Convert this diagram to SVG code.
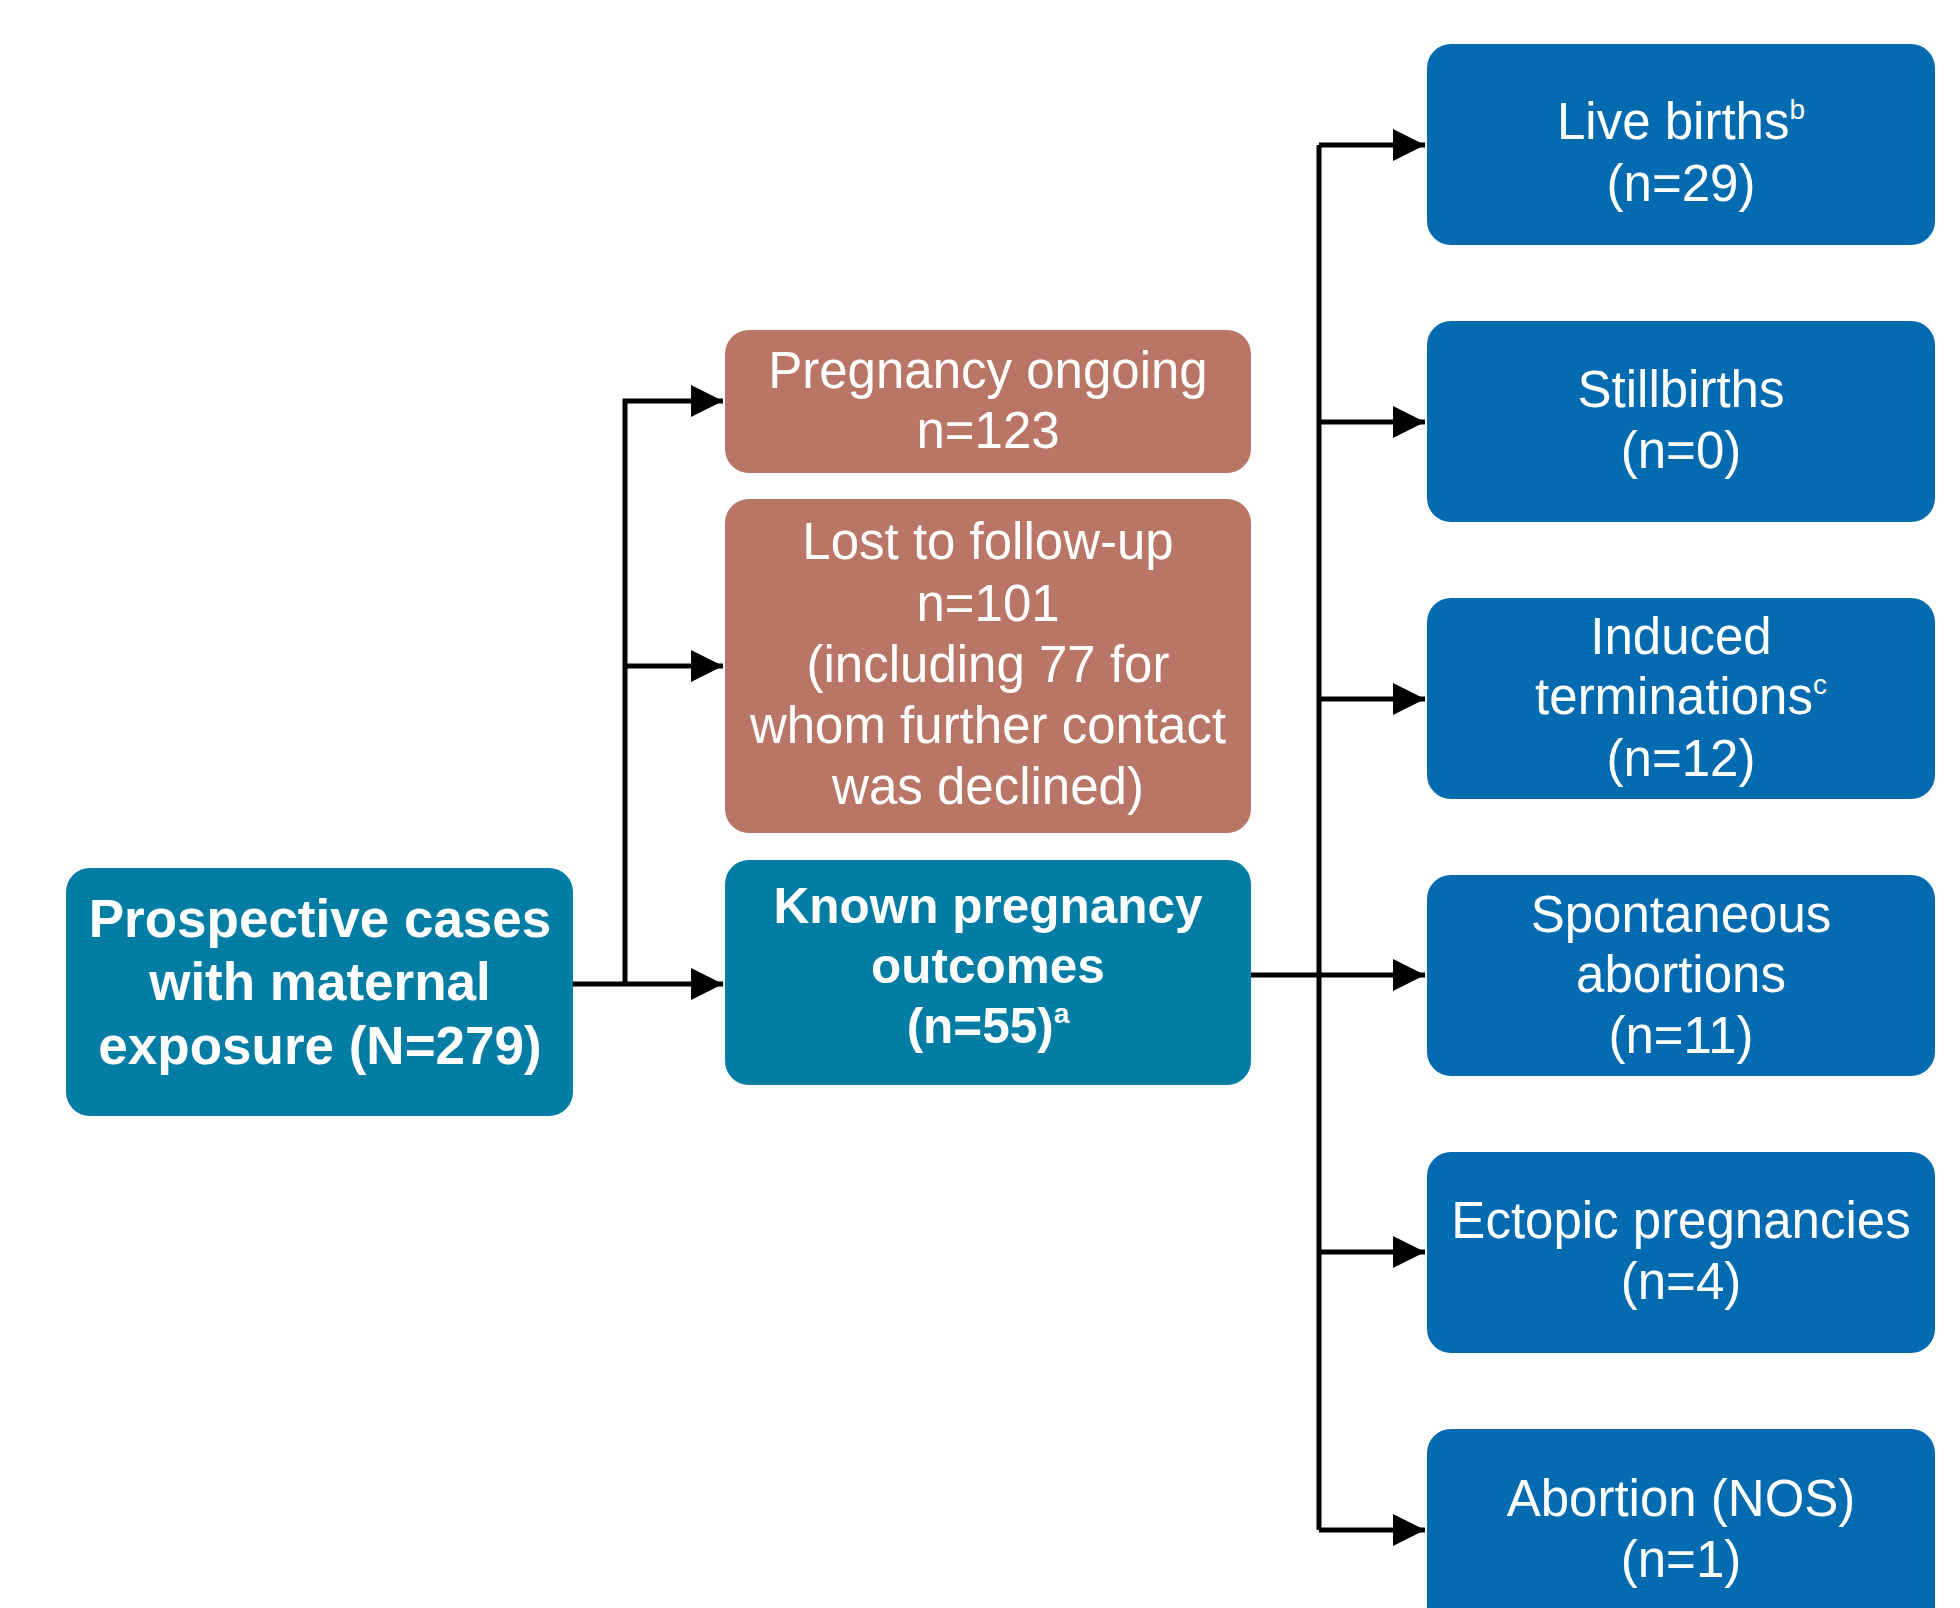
<svg xmlns="http://www.w3.org/2000/svg" width="1960" height="1608" viewBox="0 0 1960 1608">
<style>
.teal{fill:#037DA3}
.pink{fill:#B97566}
.blue{fill:#046BB0}
text{fill:#FFFFFF;font-family:"Liberation Sans",Arial,sans-serif;text-anchor:middle}
.b{font-weight:bold;font-size:53px}
.bk{font-weight:bold;font-size:49.5px}
.r{font-size:51px}
.sup{font-size:28px}
.ln{stroke:#000;stroke-width:5;fill:none}
</style>
<defs>
<marker id="ah" viewBox="0 0 10 10" refX="10" refY="5" markerWidth="6.4" markerHeight="6.4" markerUnits="strokeWidth" orient="auto">
<path d="M0,0 L10,5 L0,10 Z" fill="#000"/>
</marker>
</defs>
<rect width="1960" height="1608" fill="#FFFFFF"/>
<g id="connectors">
<path class="ln" d="M573,984 H723" marker-end="url(#ah)"/>
<path class="ln" d="M625,984 V401 H723" marker-end="url(#ah)"/>
<path class="ln" d="M625,666 H723" marker-end="url(#ah)"/>
<path class="ln" d="M1251,975 H1425" marker-end="url(#ah)"/>
<path class="ln" d="M1319,145 V1530"/>
<path class="ln" d="M1319,145 H1425" marker-end="url(#ah)"/>
<path class="ln" d="M1319,422 H1425" marker-end="url(#ah)"/>
<path class="ln" d="M1319,699 H1425" marker-end="url(#ah)"/>
<path class="ln" d="M1319,1252 H1425" marker-end="url(#ah)"/>
<path class="ln" d="M1319,1530 H1425" marker-end="url(#ah)"/>
</g>
<g id="prospective">
<rect class="teal" x="66" y="868" width="507" height="248" rx="24"/>
<text class="b" x="320" y="937">Prospective cases</text>
<text class="b" x="320" y="1000">with maternal</text>
<text class="b" x="320" y="1064">exposure (N=279)</text>
</g>
<g id="ongoing">
<rect class="pink" x="725" y="330" width="526" height="143" rx="24"/>
<text class="r" x="988" y="388">Pregnancy ongoing</text>
<text class="r" x="988" y="448">n=123</text>
</g>
<g id="lost">
<rect class="pink" x="725" y="499" width="526" height="334" rx="24"/>
<text class="r" x="988" y="559">Lost to follow-up</text>
<text class="r" x="988" y="621">n=101</text>
<text class="r" x="988" y="682">(including 77 for</text>
<text class="r" x="988" y="743">whom further contact</text>
<text class="r" x="988" y="804">was declined)</text>
</g>
<g id="known">
<rect class="teal" x="725" y="860" width="526" height="225" rx="24"/>
<text class="bk" x="988" y="923">Known pregnancy</text>
<text class="bk" x="988" y="983">outcomes</text>
<text class="bk" x="988" y="1043">(n=55)<tspan class="sup" dy="-20">a</tspan></text>
</g>
<g id="live">
<rect class="blue" x="1427" y="44" width="508" height="201" rx="24"/>
<text class="r" x="1681" y="139">Live births<tspan class="sup" dy="-20">b</tspan></text>
<text class="r" x="1681" y="201">(n=29)</text>
</g>
<g id="still">
<rect class="blue" x="1427" y="321" width="508" height="201" rx="24"/>
<text class="r" x="1681" y="407">Stillbirths</text>
<text class="r" x="1681" y="468">(n=0)</text>
</g>
<g id="induced">
<rect class="blue" x="1427" y="598" width="508" height="201" rx="24"/>
<text class="r" x="1681" y="654">Induced</text>
<text class="r" x="1681" y="714">terminations<tspan class="sup" dy="-20">c</tspan></text>
<text class="r" x="1681" y="776">(n=12)</text>
</g>
<g id="spontaneous">
<rect class="blue" x="1427" y="875" width="508" height="201" rx="24"/>
<text class="r" x="1681" y="932">Spontaneous</text>
<text class="r" x="1681" y="992">abortions</text>
<text class="r" x="1681" y="1053">(n=11)</text>
</g>
<g id="ectopic">
<rect class="blue" x="1427" y="1152" width="508" height="201" rx="24"/>
<text class="r" x="1681" y="1238">Ectopic pregnancies</text>
<text class="r" x="1681" y="1299">(n=4)</text>
</g>
<g id="abortion">
<rect class="blue" x="1427" y="1429" width="508" height="201" rx="24"/>
<text class="r" x="1681" y="1516">Abortion (NOS)</text>
<text class="r" x="1681" y="1577">(n=1)</text>
</g>
</svg>
